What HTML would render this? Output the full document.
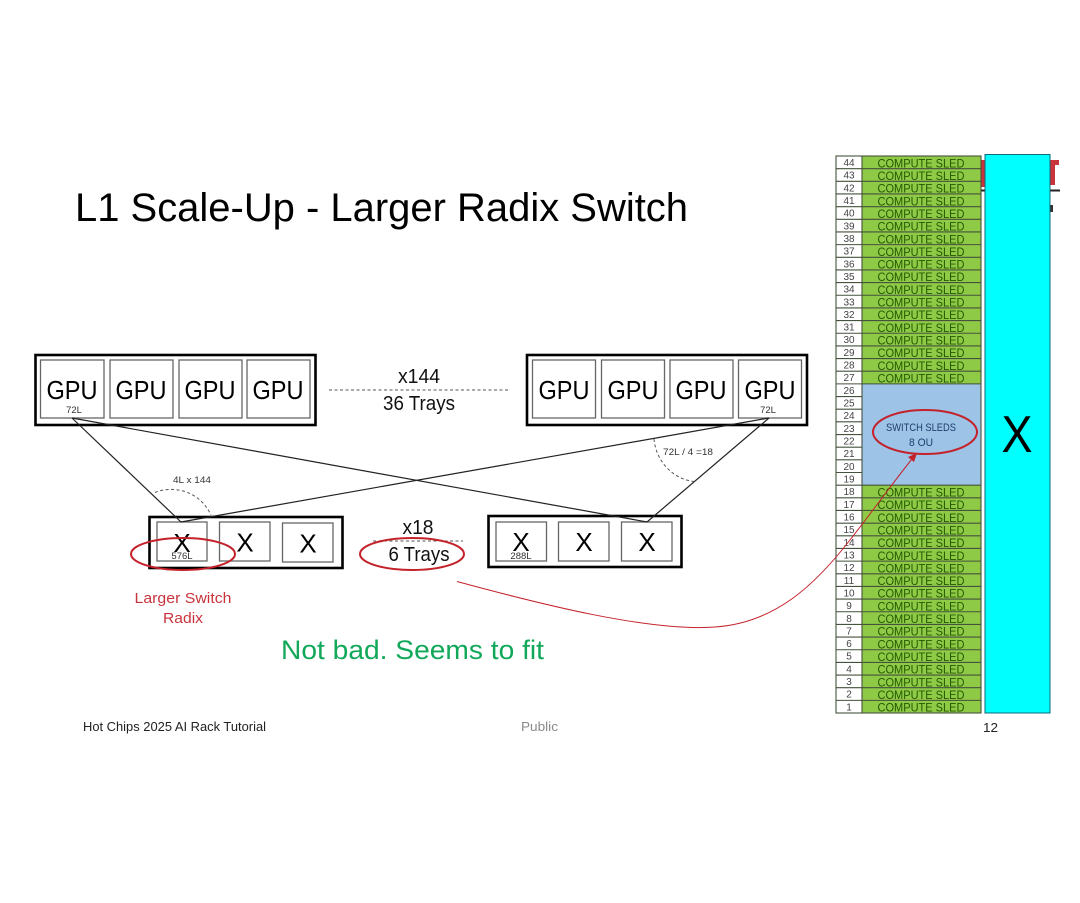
<!DOCTYPE html>
<html lang="en">
<head>
<meta charset="utf-8">
<title>L1 Scale-Up - Larger Radix Switch</title>
<style>
html,body{margin:0;padding:0;background:#fff;width:1080px;height:903px;overflow:hidden}
svg{display:block;filter:blur(.35px)}
text{font-family:"Liberation Sans",sans-serif}
.g{font-size:26px;fill:#000;text-anchor:middle}
.x{font-size:26px;fill:#000;text-anchor:middle}
.s{font-size:9.5px;fill:#333;text-anchor:middle}
.n{font-size:10px;fill:#444;text-anchor:middle}
.c{font-size:11.5px;fill:#235a00;text-anchor:middle}
.m{font-size:20px;fill:#111;text-anchor:middle}
.b{fill:#fff;stroke:#666;stroke-width:1.3}
.o{fill:none;stroke:#000;stroke-width:2.6}
.l{stroke:#222;stroke-width:1.2;fill:none}
.d{stroke:#555;stroke-width:1;fill:none;stroke-dasharray:3 2.5}
.e{fill:none;stroke:#c4222b;stroke-width:2}
</style>
</head>
<body>
<svg width="1080" height="903" viewBox="0 0 1080 903" xmlns="http://www.w3.org/2000/svg">
<rect width="1080" height="903" fill="#fff"/>

<!-- logo remnants behind cyan -->
<rect x="981.5" y="160" width="4" height="27" fill="#c9343c"/>
<rect x="1049" y="160" width="10" height="5" fill="#c9343c"/>
<rect x="1049" y="160" width="6" height="25" fill="#c9343c"/>
<rect x="981" y="189.500" width="5" height="2" fill="#222"/>
<rect x="1049" y="189.500" width="11" height="2" fill="#222"/>
<rect x="1050" y="205" width="3" height="7" fill="#333"/>

<text x="75" y="221" font-size="40" textLength="613" lengthAdjust="spacingAndGlyphs" fill="#000">L1 Scale-Up - Larger Radix Switch</text>

<!-- GPU trays -->
<rect class="o" x="35.500" y="355" width="280" height="70"/>
<rect class="b" x="40.500" y="360" width="63.500" height="58"/>
<rect class="b" x="110" y="360" width="63" height="58"/>
<rect class="b" x="179" y="360" width="63" height="58"/>
<rect class="b" x="247" y="360" width="63" height="58"/>
<text class="g" x="72" y="399" textLength="51" lengthAdjust="spacingAndGlyphs">GPU</text>
<text class="g" x="141" y="399" textLength="51" lengthAdjust="spacingAndGlyphs">GPU</text>
<text class="g" x="210" y="399" textLength="51" lengthAdjust="spacingAndGlyphs">GPU</text>
<text class="g" x="278" y="399" textLength="51" lengthAdjust="spacingAndGlyphs">GPU</text>
<text class="s" x="74" y="413">72L</text>

<rect class="o" x="527" y="355" width="280" height="70"/>
<rect class="b" x="532.500" y="360" width="63" height="58"/>
<rect class="b" x="601.500" y="360" width="63" height="58"/>
<rect class="b" x="670" y="360" width="63" height="58"/>
<rect class="b" x="738.500" y="360" width="63" height="58"/>
<text class="g" x="564" y="399" textLength="51" lengthAdjust="spacingAndGlyphs">GPU</text>
<text class="g" x="633" y="399" textLength="51" lengthAdjust="spacingAndGlyphs">GPU</text>
<text class="g" x="701" y="399" textLength="51" lengthAdjust="spacingAndGlyphs">GPU</text>
<text class="g" x="770" y="399" textLength="51" lengthAdjust="spacingAndGlyphs">GPU</text>
<text class="s" x="768" y="413">72L</text>

<!-- switch trays -->
<rect class="o" x="149.500" y="517" width="193" height="51"/>
<rect class="b" x="157" y="522" width="50" height="39"/>
<rect class="b" x="219.500" y="522" width="50.500" height="39"/>
<rect class="b" x="282.500" y="523" width="50.500" height="39"/>
<text class="x" x="182" y="552">X</text>
<text class="x" x="245" y="551.500">X</text>
<text class="x" x="308" y="552.500">X</text>
<text class="s" x="182" y="559">576L</text>

<rect class="o" x="488.500" y="516" width="193" height="51"/>
<rect class="b" x="496" y="522" width="50.500" height="39"/>
<rect class="b" x="558.500" y="522" width="50.500" height="39"/>
<rect class="b" x="621.500" y="522" width="50.500" height="39"/>
<text class="x" x="521" y="551">X</text>
<text class="x" x="584" y="551">X</text>
<text class="x" x="647" y="551">X</text>
<text class="s" x="521" y="559">288L</text>

<!-- connectors -->
<line class="l" x1="72" y1="418" x2="181" y2="522"/>
<line class="l" x1="72" y1="418" x2="647" y2="522"/>
<line class="l" x1="769" y1="418" x2="181" y2="522"/>
<line class="l" x1="769" y1="418" x2="647" y2="522"/>
<path class="d" d="M155 492.500C170 486 198 488 211 515"/>
<path class="d" d="M654 439C656 462 674 480 695 481.500"/>
<line class="d" x1="329" y1="390" x2="510" y2="390"/>
<line class="d" x1="373" y1="541" x2="463" y2="541"/>

<text class="m" x="419" y="383" textLength="42" lengthAdjust="spacingAndGlyphs">x144</text>
<text class="m" x="419" y="410" textLength="72" lengthAdjust="spacingAndGlyphs">36 Trays</text>
<text class="m" x="418" y="534" textLength="31" lengthAdjust="spacingAndGlyphs">x18</text>
<text class="m" x="419" y="561" textLength="61" lengthAdjust="spacingAndGlyphs">6 Trays</text>
<text class="s" x="192" y="483" textLength="38" lengthAdjust="spacingAndGlyphs">4L x 144</text>
<text class="s" x="688" y="455" textLength="50" lengthAdjust="spacingAndGlyphs">72L / 4 =18</text>

<text x="183" y="603" font-size="15" fill="#c9343c" text-anchor="middle" textLength="97" lengthAdjust="spacingAndGlyphs">Larger Switch</text>
<text x="183" y="623" font-size="15" fill="#c9343c" text-anchor="middle" textLength="40" lengthAdjust="spacingAndGlyphs">Radix</text>
<text x="281" y="659" font-size="27" fill="#12a85a" textLength="263" lengthAdjust="spacingAndGlyphs">Not bad. Seems to fit</text>

<text x="83" y="731" font-size="13" fill="#222" textLength="183" lengthAdjust="spacingAndGlyphs">Hot Chips 2025 AI Rack Tutorial</text>
<text x="521" y="731" font-size="13" fill="#8a8a8a" textLength="37" lengthAdjust="spacingAndGlyphs">Public</text>
<text x="983" y="732" font-size="13" fill="#222" textLength="15" lengthAdjust="spacingAndGlyphs">12</text>

<!-- rack -->
<rect x="836" y="156" width="26" height="557" fill="#fff"/>
<rect x="862" y="156" width="119" height="557" fill="#8fca47"/>
<rect x="862" y="383.880" width="119" height="101.280" fill="#9dc3e6"/>
<g stroke="#45523d" stroke-width="1.1" fill="none">
<path d="M836 168.660H981M836 181.320H981M836 193.980H981M836 206.640H981M836 219.300H981M836 231.960H981M836 244.620H981M836 257.280H981M836 269.940H981M836 282.600H981M836 295.260H981M836 307.920H981M836 320.580H981M836 333.240H981M836 345.900H981M836 358.560H981M836 371.220H981M836 383.880H981"/>
<path d="M836 396.540H862M836 409.200H862M836 421.860H862M836 434.520H862M836 447.180H862M836 459.840H862M836 472.500H862"/>
<path d="M836 485.160H981M836 497.820H981M836 510.480H981M836 523.140H981M836 535.800H981M836 548.460H981M836 561.120H981M836 573.780H981M836 586.440H981M836 599.100H981M836 611.760H981M836 624.420H981M836 637.080H981M836 649.740H981M836 662.400H981M836 675.060H981M836 687.720H981M836 700.380H981"/>
<rect x="836" y="156" width="145" height="557"/>
<path d="M862 156V713"/>
</g>

<g>
<text class="n" x="849" y="166">44</text><text class="n" x="849" y="178.700">43</text><text class="n" x="849" y="191.300">42</text><text class="n" x="849" y="204">41</text><text class="n" x="849" y="216.600">40</text><text class="n" x="849" y="229.300">39</text><text class="n" x="849" y="242">38</text><text class="n" x="849" y="254.600">37</text><text class="n" x="849" y="267.300">36</text><text class="n" x="849" y="279.900">35</text><text class="n" x="849" y="292.600">34</text><text class="n" x="849" y="305.300">33</text><text class="n" x="849" y="317.900">32</text><text class="n" x="849" y="330.600">31</text><text class="n" x="849" y="343.200">30</text><text class="n" x="849" y="355.900">29</text><text class="n" x="849" y="368.600">28</text><text class="n" x="849" y="381.200">27</text><text class="n" x="849" y="393.900">26</text><text class="n" x="849" y="406.500">25</text><text class="n" x="849" y="419.200">24</text><text class="n" x="849" y="431.900">23</text><text class="n" x="849" y="444.500">22</text><text class="n" x="849" y="457.200">21</text><text class="n" x="849" y="469.800">20</text><text class="n" x="849" y="482.500">19</text><text class="n" x="849" y="495.200">18</text><text class="n" x="849" y="507.800">17</text><text class="n" x="849" y="520.500">16</text><text class="n" x="849" y="533.100">15</text><text class="n" x="849" y="545.800">14</text><text class="n" x="849" y="558.500">13</text><text class="n" x="849" y="571.100">12</text><text class="n" x="849" y="583.800">11</text><text class="n" x="849" y="596.400">10</text><text class="n" x="849" y="609.100">9</text><text class="n" x="849" y="621.800">8</text><text class="n" x="849" y="634.400">7</text><text class="n" x="849" y="647.100">6</text><text class="n" x="849" y="659.700">5</text><text class="n" x="849" y="672.400">4</text><text class="n" x="849" y="685.100">3</text><text class="n" x="849" y="697.700">2</text><text class="n" x="849" y="710.400">1</text>
</g>
<g>
<text class="c" x="921" y="167.300" textLength="87" lengthAdjust="spacingAndGlyphs">COMPUTE SLED</text>
<text class="c" x="921" y="180" textLength="87" lengthAdjust="spacingAndGlyphs">COMPUTE SLED</text>
<text class="c" x="921" y="192.600" textLength="87" lengthAdjust="spacingAndGlyphs">COMPUTE SLED</text>
<text class="c" x="921" y="205.300" textLength="87" lengthAdjust="spacingAndGlyphs">COMPUTE SLED</text>
<text class="c" x="921" y="217.900" textLength="87" lengthAdjust="spacingAndGlyphs">COMPUTE SLED</text>
<text class="c" x="921" y="230.600" textLength="87" lengthAdjust="spacingAndGlyphs">COMPUTE SLED</text>
<text class="c" x="921" y="243.300" textLength="87" lengthAdjust="spacingAndGlyphs">COMPUTE SLED</text>
<text class="c" x="921" y="255.900" textLength="87" lengthAdjust="spacingAndGlyphs">COMPUTE SLED</text>
<text class="c" x="921" y="268.600" textLength="87" lengthAdjust="spacingAndGlyphs">COMPUTE SLED</text>
<text class="c" x="921" y="281.200" textLength="87" lengthAdjust="spacingAndGlyphs">COMPUTE SLED</text>
<text class="c" x="921" y="293.900" textLength="87" lengthAdjust="spacingAndGlyphs">COMPUTE SLED</text>
<text class="c" x="921" y="306.600" textLength="87" lengthAdjust="spacingAndGlyphs">COMPUTE SLED</text>
<text class="c" x="921" y="319.200" textLength="87" lengthAdjust="spacingAndGlyphs">COMPUTE SLED</text>
<text class="c" x="921" y="331.900" textLength="87" lengthAdjust="spacingAndGlyphs">COMPUTE SLED</text>
<text class="c" x="921" y="344.500" textLength="87" lengthAdjust="spacingAndGlyphs">COMPUTE SLED</text>
<text class="c" x="921" y="357.200" textLength="87" lengthAdjust="spacingAndGlyphs">COMPUTE SLED</text>
<text class="c" x="921" y="369.900" textLength="87" lengthAdjust="spacingAndGlyphs">COMPUTE SLED</text>
<text class="c" x="921" y="382.500" textLength="87" lengthAdjust="spacingAndGlyphs">COMPUTE SLED</text>
<text class="c" x="921" y="496.500" textLength="87" lengthAdjust="spacingAndGlyphs">COMPUTE SLED</text>
<text class="c" x="921" y="509.100" textLength="87" lengthAdjust="spacingAndGlyphs">COMPUTE SLED</text>
<text class="c" x="921" y="521.800" textLength="87" lengthAdjust="spacingAndGlyphs">COMPUTE SLED</text>
<text class="c" x="921" y="534.400" textLength="87" lengthAdjust="spacingAndGlyphs">COMPUTE SLED</text>
<text class="c" x="921" y="547.100" textLength="87" lengthAdjust="spacingAndGlyphs">COMPUTE SLED</text>
<text class="c" x="921" y="559.800" textLength="87" lengthAdjust="spacingAndGlyphs">COMPUTE SLED</text>
<text class="c" x="921" y="572.400" textLength="87" lengthAdjust="spacingAndGlyphs">COMPUTE SLED</text>
<text class="c" x="921" y="585.100" textLength="87" lengthAdjust="spacingAndGlyphs">COMPUTE SLED</text>
<text class="c" x="921" y="597.700" textLength="87" lengthAdjust="spacingAndGlyphs">COMPUTE SLED</text>
<text class="c" x="921" y="610.400" textLength="87" lengthAdjust="spacingAndGlyphs">COMPUTE SLED</text>
<text class="c" x="921" y="623.100" textLength="87" lengthAdjust="spacingAndGlyphs">COMPUTE SLED</text>
<text class="c" x="921" y="635.700" textLength="87" lengthAdjust="spacingAndGlyphs">COMPUTE SLED</text>
<text class="c" x="921" y="648.400" textLength="87" lengthAdjust="spacingAndGlyphs">COMPUTE SLED</text>
<text class="c" x="921" y="661" textLength="87" lengthAdjust="spacingAndGlyphs">COMPUTE SLED</text>
<text class="c" x="921" y="673.700" textLength="87" lengthAdjust="spacingAndGlyphs">COMPUTE SLED</text>
<text class="c" x="921" y="686.400" textLength="87" lengthAdjust="spacingAndGlyphs">COMPUTE SLED</text>
<text class="c" x="921" y="699" textLength="87" lengthAdjust="spacingAndGlyphs">COMPUTE SLED</text>
<text class="c" x="921" y="711.700" textLength="87" lengthAdjust="spacingAndGlyphs">COMPUTE SLED</text>
</g>
<text x="921" y="431" font-size="11" fill="#1f3f6e" text-anchor="middle" textLength="70" lengthAdjust="spacingAndGlyphs">SWITCH SLEDS</text>
<text x="921" y="446" font-size="11" fill="#1f3f6e" text-anchor="middle" textLength="24" lengthAdjust="spacingAndGlyphs">8 OU</text>

<!-- cyan cover -->
<rect x="985" y="154.500" width="65" height="558.500" fill="#00ffff" stroke="#0e6a78" stroke-width="1"/>
<text x="1017" y="452" font-size="52" fill="#000" text-anchor="middle" textLength="31" lengthAdjust="spacingAndGlyphs">X</text>

<!-- red ellipses and curve -->
<ellipse class="e" cx="183" cy="554" rx="52" ry="16"/>
<ellipse class="e" cx="412" cy="554" rx="52" ry="16"/>
<ellipse class="e" cx="925" cy="432" rx="52" ry="22"/>
<path d="M457 581.500C540 604 650 632 715 627C775 623 815 585 850 540C875 508 895 480 912 459" fill="none" stroke="#c4222b" stroke-width="1"/>
<polygon points="917,453 914,462 908,457" fill="#c4222b"/>
</svg>
</body>
</html>
